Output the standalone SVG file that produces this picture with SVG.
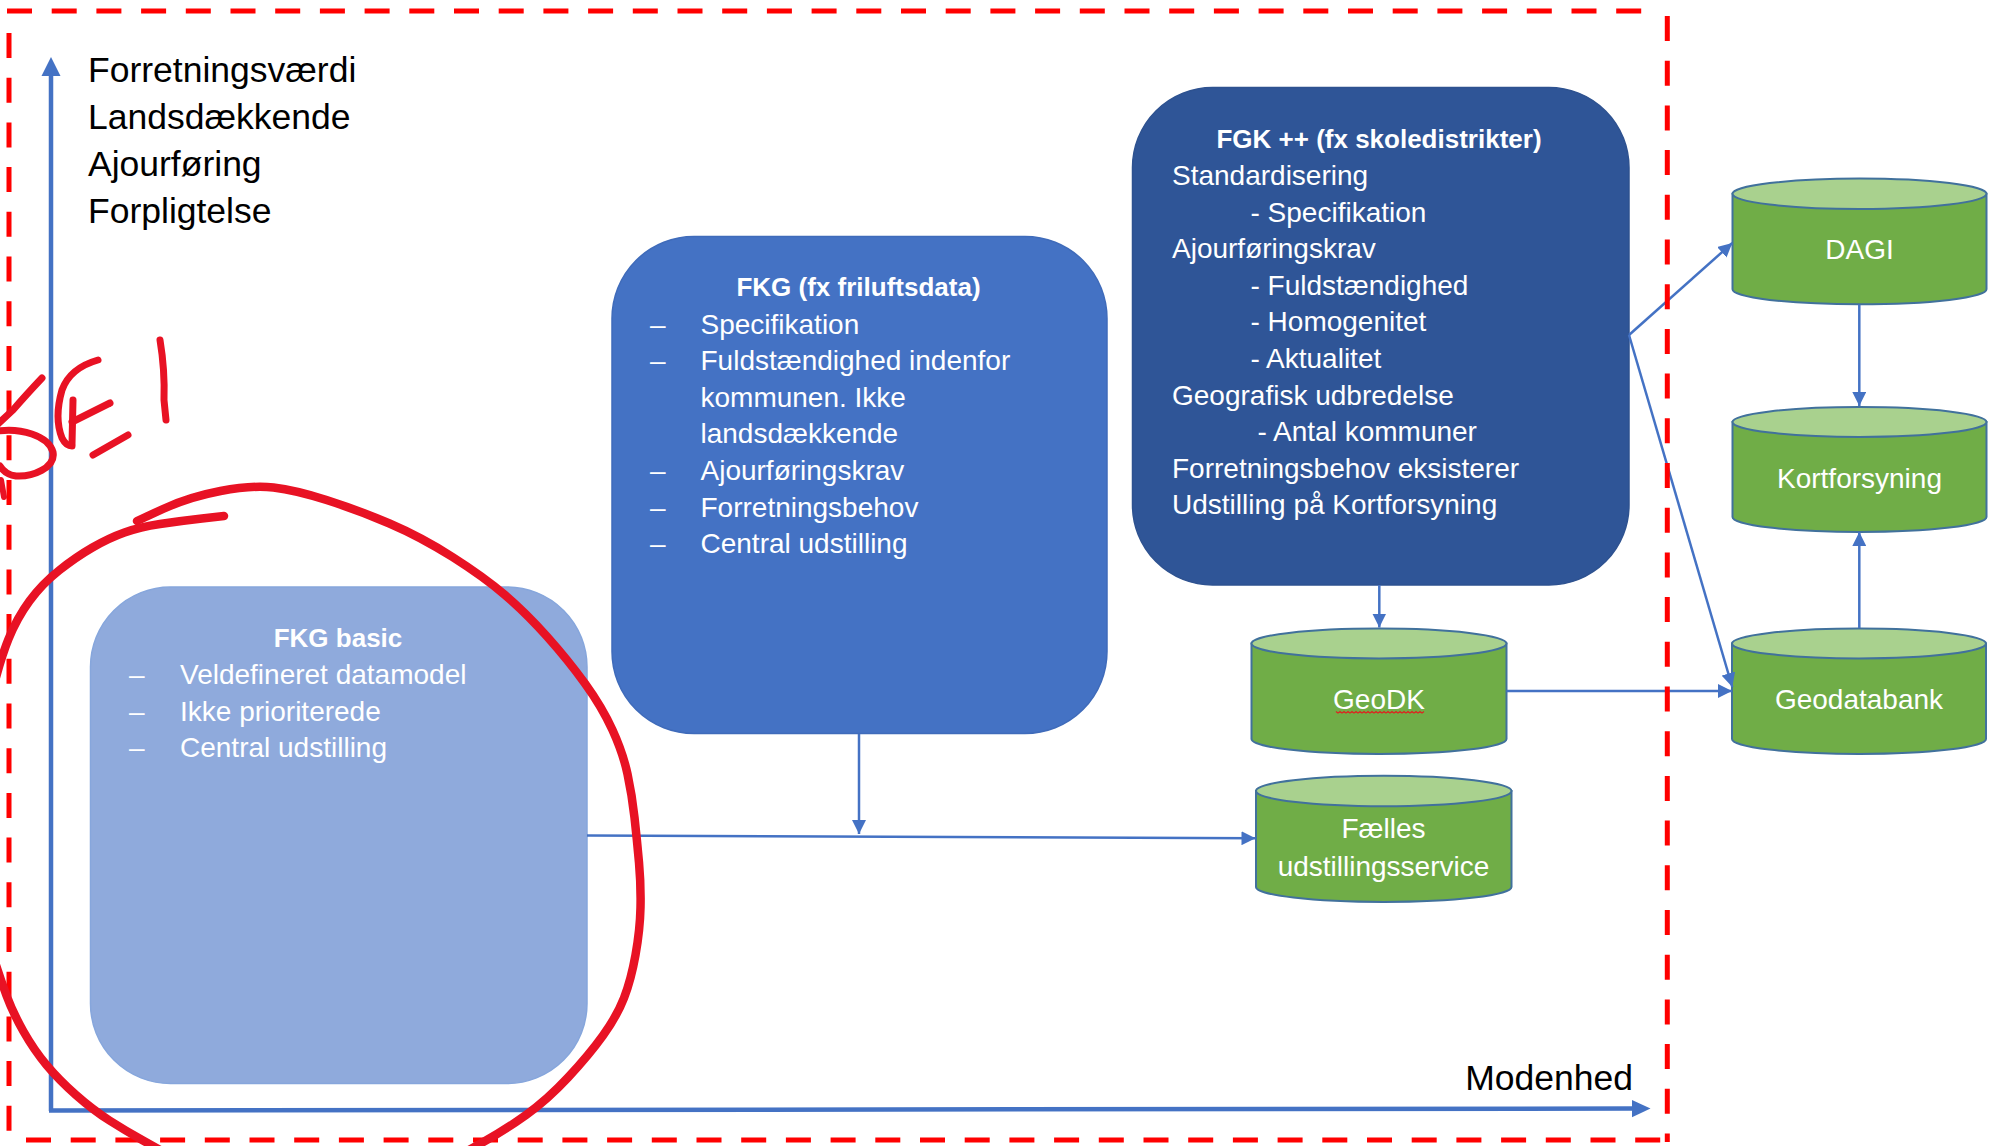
<svg xmlns="http://www.w3.org/2000/svg" width="1998" height="1146" viewBox="0 0 1998 1146">
<defs>
<style>
.lbl{font-family:"Liberation Sans",Arial,sans-serif;font-size:35.5px;fill:#000}
.wt{font-family:"Liberation Sans",Arial,sans-serif;font-size:28px;fill:#fff}
.tt{font-family:"Liberation Sans",Arial,sans-serif;font-size:26px;font-weight:bold;fill:#fff;text-anchor:middle}
.cy{font-family:"Liberation Sans",Arial,sans-serif;font-size:28px;fill:#fff;text-anchor:middle}
.conn{stroke:#4472C4;stroke-width:2.5;fill:none}
.axis{stroke:#4472C4;stroke-width:4.5;fill:none}
.frame{stroke:#FF0000;stroke-width:5;fill:none;stroke-dasharray:25 19.7}
.ink{stroke:#E81224;fill:none;stroke-linecap:round;stroke-linejoin:round}
.body{fill:#70AD47;stroke:#41719C;stroke-width:2}
.top{fill:#A9D18E;stroke:#41719C;stroke-width:2}
</style>
<marker id="arr" markerUnits="userSpaceOnUse" markerWidth="14" markerHeight="14" viewBox="0 0 12 12" refX="12" refY="6" orient="auto">
<path d="M0,0 L12,6 L0,12 Z" fill="#4472C4"/>
</marker>
</defs>
<rect x="0" y="0" width="1998" height="1146" fill="#fff"/>

<g id="axes">
<line class="axis" x1="51" y1="1111" x2="51" y2="74"/>
<polygon points="51,57 41.5,76 60.5,76" fill="#4472C4"/>
<line class="axis" x1="49" y1="1110.5" x2="1634" y2="1108.6"/>
<polygon points="1650.5,1108.6 1632,1100 1632,1117.2" fill="#4472C4"/>
<text class="lbl" x="88" y="82">Forretningsværdi</text>
<text class="lbl" x="88" y="128.5">Landsdækkende</text>
<text class="lbl" x="88" y="175.5">Ajourføring</text>
<text class="lbl" x="88" y="222.5">Forpligtelse</text>
<text class="lbl" x="1633" y="1090" text-anchor="end">Modenhed</text>
</g>

<g id="fkg-basic">
<rect x="90.5" y="587" width="496.5" height="496.5" rx="80" ry="80" fill="#8FAADC" stroke="#86A6DC" stroke-width="1.5"/>
<text class="tt" x="338" y="647">FKG basic</text>
<text class="wt" x="129" y="684.4">–</text><text class="wt" x="180" y="684.4">Veldefineret datamodel</text>
<text class="wt" x="129" y="720.6">–</text><text class="wt" x="180" y="720.6">Ikke prioriterede</text>
<text class="wt" x="129" y="756.8">–</text><text class="wt" x="180" y="756.8">Central udstilling</text>
</g>

<g id="fkg">
<rect x="612" y="236.5" width="495" height="497" rx="82" ry="82" fill="#4472C4" stroke="#3F6BBA" stroke-width="1.5"/>
<text class="tt" x="858.5" y="296.4">FKG (fx friluftsdata)</text>
<text class="wt" x="650" y="333.6">–</text><text class="wt" x="700.5" y="333.6">Specifikation</text>
<text class="wt" x="650" y="370.2">–</text><text class="wt" x="700.5" y="370.2">Fuldstændighed indenfor</text>
<text class="wt" x="700.5" y="406.8">kommunen. Ikke</text>
<text class="wt" x="700.5" y="443.4">landsdækkende</text>
<text class="wt" x="650" y="480">–</text><text class="wt" x="700.5" y="480">Ajourføringskrav</text>
<text class="wt" x="650" y="516.6">–</text><text class="wt" x="700.5" y="516.6">Forretningsbehov</text>
<text class="wt" x="650" y="553.2">–</text><text class="wt" x="700.5" y="553.2">Central udstilling</text>
</g>

<g id="fgk-plus">
<rect x="1132.5" y="87.5" width="496.5" height="497.5" rx="80" ry="80" fill="#2F5597" stroke="#2E5290" stroke-width="1.5"/>
<text class="tt" x="1379" y="148.3">FGK ++ (fx skoledistrikter)</text>
<text class="wt" x="1172" y="185">Standardisering</text>
<text class="wt" x="1250.5" y="221.6">- Specifikation</text>
<text class="wt" x="1172" y="258.2">Ajourføringskrav</text>
<text class="wt" x="1250.5" y="294.8">- Fuldstændighed</text>
<text class="wt" x="1250.5" y="331.4">- Homogenitet</text>
<text class="wt" x="1250.5" y="368">- Aktualitet</text>
<text class="wt" x="1172" y="404.6">Geografisk udbredelse</text>
<text class="wt" x="1257.5" y="441.2">- Antal kommuner</text>
<text class="wt" x="1172" y="477.8">Forretningsbehov eksisterer</text>
<text class="wt" x="1172" y="514.4">Udstilling på Kortforsyning</text>
</g>

<g id="dagi">
<path class="body" d="M1732.5,193.8 L1732.5,289.3 A127,15 0 0 0 1986.5,289.3 L1986.5,193.8 Z"/>
<ellipse class="top" cx="1859.5" cy="193.8" rx="127" ry="15.2"/>
<text class="cy" x="1859.5" y="259">DAGI</text>
</g>

<g id="kortforsyning">
<path class="body" d="M1732.5,422 L1732.5,517 A127,15 0 0 0 1986.5,517 L1986.5,422 Z"/>
<ellipse class="top" cx="1859.5" cy="422" rx="127" ry="15"/>
<text class="cy" x="1859.5" y="487.5">Kortforsyning</text>
</g>

<g id="geodatabank">
<path class="body" d="M1732,643.5 L1732,739 A127,15 0 0 0 1986,739 L1986,643.5 Z"/>
<ellipse class="top" cx="1859" cy="643.5" rx="127" ry="15"/>
<text class="cy" x="1859" y="708.7">Geodatabank</text>
</g>

<g id="geodk">
<path class="body" d="M1251.5,643.5 L1251.5,739 A127.5,15 0 0 0 1506.5,739 L1506.5,643.5 Z"/>
<ellipse class="top" cx="1379" cy="643.5" rx="127.5" ry="15"/>
<text class="cy" x="1379" y="708.7">GeoDK</text>
<path d="M1336,711.5 l2,1.6 l2,-1.6 l2,1.6 l2,-1.6 l2,1.6 l2,-1.6 l2,1.6 l2,-1.6 l2,1.6 l2,-1.6 l2,1.6 l2,-1.6 l2,1.6 l2,-1.6 l2,1.6 l2,-1.6 l2,1.6 l2,-1.6 l2,1.6 l2,-1.6 l2,1.6 l2,-1.6 l2,1.6 l2,-1.6 l2,1.6 l2,-1.6 l2,1.6 l2,-1.6 l2,1.6 l2,-1.6 l2,1.6 l2,-1.6 l2,1.6 l2,-1.6 l2,1.6 l2,-1.6 l2,1.6 l2,-1.6 l2,1.6 l2,-1.6 l2,1.6 l2,-1.6 l2,1.6 l2,-1.6" fill="none" stroke="#E02020" stroke-width="1.2"/>
</g>

<g id="faelles">
<path class="body" d="M1256,791 L1256,887 A127.75,15 0 0 0 1511.5,887 L1511.5,791 Z"/>
<ellipse class="top" cx="1383.75" cy="791" rx="127.75" ry="15.2"/>
<text class="cy" x="1383.5" y="838.4">Fælles</text>
<text class="cy" x="1383.5" y="875.8">udstillingsservice</text>
</g>

<g id="connectors">
<line class="conn" x1="587" y1="835.5" x2="1255.5" y2="838.3" marker-end="url(#arr)"/>
<line class="conn" x1="859" y1="734" x2="859" y2="834" marker-end="url(#arr)"/>
<line class="conn" x1="1379.3" y1="585" x2="1379.3" y2="627.5" marker-end="url(#arr)"/>
<line class="conn" x1="1629" y1="335" x2="1732.3" y2="243" marker-end="url(#arr)"/>
<line class="conn" x1="1629" y1="335" x2="1732.3" y2="687" marker-end="url(#arr)"/>
<line class="conn" x1="1506.5" y1="691" x2="1732" y2="691" marker-end="url(#arr)"/>
<line class="conn" x1="1859.3" y1="304.5" x2="1859.3" y2="406" marker-end="url(#arr)"/>
<line class="conn" x1="1859.3" y1="628" x2="1859.3" y2="532" marker-end="url(#arr)"/>
</g>

<g id="frame">
<line class="frame" x1="7" y1="11" x2="1655" y2="11"/>
<line class="frame" x1="1667.3" y1="16" x2="1667.3" y2="1142"/>
<line class="frame" x1="26" y1="1140" x2="1667" y2="1140"/>
<line class="frame" x1="9" y1="33" x2="9" y2="1142"/>
</g>

<g id="ink">
<path class="ink" stroke-width="8.5" d="M137,521 L163,509 Q189,497 220.5,491 Q252,485 273.5,487.5 Q295,490 326.5,500 Q358,510 389.5,523.5 Q421,537 452.5,557 Q484,577 505,595 Q526,613 547,636.5 Q568,660 585,683.5 Q602,707 612.5,730 Q623,753 627.5,774 Q632,795 634.5,817.5 Q637,840 639,862.5 Q641,885 640.5,907.5 Q640,930 635.5,955 Q631,980 624,998 Q617,1016 603,1035.5 Q589,1055 568,1077.5 Q547,1100 526,1115 Q505,1130 482.5,1142.5 L460,1155"/>
<path class="ink" stroke-width="8.5" d="M224,516 L202,518.5 Q180,521 160,524 Q140,527 124.5,532.5 Q109,538 92.5,547.5 Q76,557 59,570.5 Q42,584 29.5,601 Q17,618 8.5,639 Q0,660 -10,700 Q-20,740 -22.5,795 Q-25,850 -18.5,895 Q-12,940 -6,959 Q0,978 6.5,995.5 Q13,1013 23.5,1031.5 Q34,1050 46.5,1065 Q59,1080 76,1095 Q93,1110 109.5,1120.5 Q126,1131 143,1140.5 L160,1150"/>
<path class="ink" stroke-width="7" d="M42,378 Q25,396 13,410 L-2,424"/>
<path class="ink" stroke-width="7" d="M-2,431 C20,428 48,435 53,452 C56,468 32,477 16,476 C8,475 3,471 0,466"/>
<path class="ink" stroke-width="6" d="M1,480 L4,497"/>
<path class="ink" stroke-width="7" d="M98,360 Q70,368 62,390 Q54,418 62,438 Q66,446 72,446"/>
<path class="ink" stroke-width="7" d="M73,400 L72,444"/>
<path class="ink" stroke-width="7" d="M72,422 L110,403"/>
<path class="ink" stroke-width="7" d="M93,455 L128,435"/>
<path class="ink" stroke-width="7" d="M160,340 Q165,370 164,400 L166,420"/>
</g>
</svg>
